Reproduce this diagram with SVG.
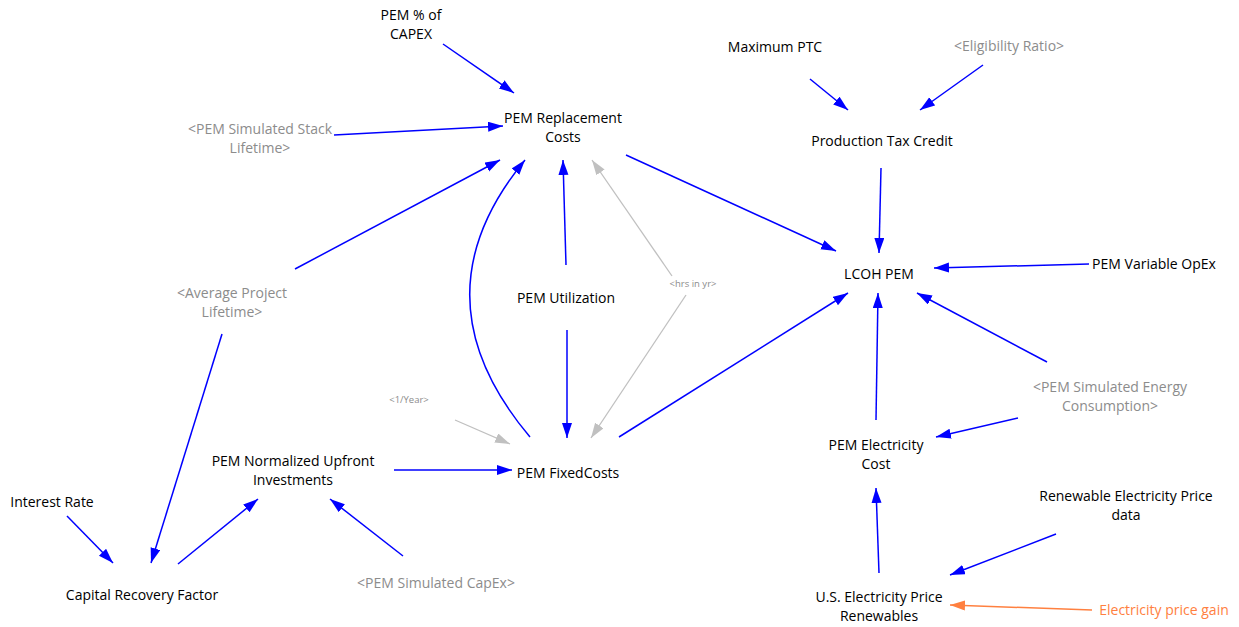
<svg xmlns="http://www.w3.org/2000/svg" width="1239" height="627" viewBox="0 0 1239 627">
<style>
text{font-family:"Open Sans","Liberation Sans",sans-serif;font-size:14px;text-anchor:middle;fill:#000}
.g{fill:#8c8c8c}
.s{font-size:9.5px;fill:#8c8c8c}
.o{fill:#ff8040}
.b{stroke:#0000ff;stroke-width:1.5;fill:none;marker-end:url(#ab)}
.gr{stroke:#c0c0c0;stroke-width:1.3;fill:none;marker-end:url(#ag)}
.or{stroke:#ff8040;stroke-width:1.5;fill:none;marker-end:url(#ao)}
</style>
<defs>
<marker id="ab" markerUnits="userSpaceOnUse" markerWidth="16" markerHeight="12" refX="15" refY="5" orient="auto"><path d="M0,0 L15,5 L0,10 z" fill="#0000ff"/></marker>
<marker id="ag" markerUnits="userSpaceOnUse" markerWidth="16" markerHeight="12" refX="15" refY="5" orient="auto"><path d="M0,0 L15,5 L0,10 z" fill="#c0c0c0"/></marker>
<marker id="ao" markerUnits="userSpaceOnUse" markerWidth="16" markerHeight="12" refX="15" refY="5" orient="auto"><path d="M0,0 L15,5 L0,10 z" fill="#ff8040"/></marker>
</defs>
<rect width="1239" height="627" fill="#fff"/>
<g id="connectors">
<path class="b" d="M443,44 L514,93"/>
<path class="b" d="M334,135 L503,126"/>
<path class="b" d="M295,269 L500,160"/>
<path class="b" d="M530,437 Q412,297 525,160"/>
<path class="b" d="M566,265 L563,160"/>
<path class="gr" d="M672,276 L592,160"/>
<path class="gr" d="M686,295 L591,438"/>
<path class="b" d="M626,155 L836,251"/>
<path class="b" d="M881,168 L879,253"/>
<path class="b" d="M810,79 L848,110"/>
<path class="b" d="M983,65 L920,110"/>
<path class="b" d="M1089,264 L934,268"/>
<path class="b" d="M619,437 L848,293"/>
<path class="b" d="M876,420 L878,293"/>
<path class="b" d="M1047,362 L917,293"/>
<path class="b" d="M1018,418 L936,437"/>
<path class="b" d="M879,573 L876,488"/>
<path class="b" d="M1056,534 L950,575"/>
<path class="or" d="M1092,610 L950,605"/>
<path class="b" d="M567,330 L567,438"/>
<path class="gr" d="M455,420 L510,444"/>
<path class="b" d="M394,470 L512,470"/>
<path class="b" d="M178,564 L258,499"/>
<path class="b" d="M67,516 L113,563"/>
<path class="b" d="M222,334 L151,563"/>
<path class="b" d="M403,556 L330,499"/>
</g>
<g id="pem_pct_capex"><text x="411" y="20">PEM % of</text><text x="411" y="39">CAPEX</text></g>
<g id="pem_replacement_costs"><text x="563" y="123">PEM Replacement</text><text x="563" y="142">Costs</text></g>
<g id="stack_lifetime"><text class="g" x="260" y="134">&lt;PEM Simulated Stack</text><text class="g" x="260" y="153">Lifetime&gt;</text></g>
<g id="maximum_ptc"><text x="775" y="52">Maximum PTC</text></g>
<g id="eligibility_ratio"><text class="g" x="1009" y="51">&lt;Eligibility Ratio&gt;</text></g>
<g id="production_tax_credit"><text x="882" y="146">Production Tax Credit</text></g>
<g id="lcoh_pem"><text x="879" y="279">LCOH PEM</text></g>
<g id="pem_variable_opex"><text x="1154" y="269">PEM Variable OpEx</text></g>
<g id="hrs_in_yr"><text class="s" x="693" y="287">&lt;hrs in yr&gt;</text></g>
<g id="pem_utilization"><text x="566" y="303">PEM Utilization</text></g>
<g id="avg_project_lifetime"><text class="g" x="232" y="298">&lt;Average Project</text><text class="g" x="232" y="317">Lifetime&gt;</text></g>
<g id="one_year"><text class="s" x="409" y="403">&lt;1/Year&gt;</text></g>
<g id="energy_consumption"><text class="g" x="1110" y="392">&lt;PEM Simulated Energy</text><text class="g" x="1110" y="411">Consumption&gt;</text></g>
<g id="pem_electricity_cost"><text x="876" y="450">PEM Electricity</text><text x="876" y="469">Cost</text></g>
<g id="pem_normalized_upfront"><text x="293" y="466">PEM Normalized Upfront</text><text x="293" y="485">Investments</text></g>
<g id="pem_fixedcosts"><text x="568" y="478">PEM FixedCosts</text></g>
<g id="interest_rate"><text x="52" y="507">Interest Rate</text></g>
<g id="renewable_price_data"><text x="1126" y="501">Renewable Electricity Price</text><text x="1126" y="520">data</text></g>
<g id="capital_recovery_factor"><text x="142" y="600">Capital Recovery Factor</text></g>
<g id="pem_simulated_capex"><text class="g" x="436" y="588">&lt;PEM Simulated CapEx&gt;</text></g>
<g id="us_electricity_price"><text x="879" y="602">U.S. Electricity Price</text><text x="879" y="621">Renewables</text></g>
<g id="electricity_price_gain"><text class="o" x="1164" y="615">Electricity price gain</text></g>
</svg>
